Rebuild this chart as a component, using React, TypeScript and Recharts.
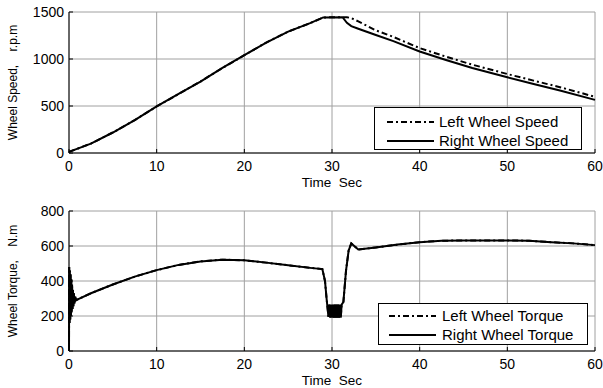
import React from 'react'
import { LineChart, Line, XAxis, YAxis, CartesianGrid } from 'recharts'

// --- speed (top plot) ---
const speedTime = [0, 2.5, 5, 7.5, 10, 12.5, 15, 17.5, 20, 22.5, 25, 27.5, 29, 31.2, 31.7, 32.2, 33, 35, 37, 40, 43, 46, 50, 53, 56, 60]
const rightSpeed = [12, 100, 218, 350, 495, 628, 760, 905, 1040, 1175, 1292, 1381, 1442, 1445, 1385, 1350, 1322, 1255, 1190, 1080, 990, 905, 805, 735, 665, 565]
const leftSpeed = [12, 100, 218, 350, 495, 628, 760, 905, 1040, 1175, 1292, 1381, 1442, 1445, 1445, 1435, 1400, 1305, 1235, 1116, 1025, 940, 840, 770, 700, 598]

// --- torque (bottom plot) ---
const torqueTime = [
  0, 0.02, 0.06, 0.1, 0.14, 0.18, 0.22, 0.26, 0.3, 0.35, 0.4, 0.45, 0.5, 0.56, 0.62, 0.7, 0.8, 1,
  2.5, 5, 7.5, 10, 12.5, 15, 17.5, 20, 22.5, 25, 27.5, 28.9, 29.2, 29.4, 29.6,
  29.7, 29.8, 29.9, 30, 30.1, 30.2, 30.3, 30.4, 30.5, 30.6, 30.7, 30.8, 30.9, 31,
  31.1, 31.3, 31.6, 31.9, 32.2, 33, 35, 37.5, 40, 42.5, 45, 47.5, 50, 52.5, 55, 57.5, 60,
]
const rightTorque = [
  0, 480, 160, 460, 180, 440, 200, 410, 220, 380, 240, 350, 255, 330, 270, 310, 290, 295,
  330, 380, 425, 462, 492, 512, 522, 518, 505, 490, 475, 468, 400, 290, 195,
  265, 190, 265, 190, 265, 190, 265, 190, 265, 190, 265, 190, 265, 190, 265,
  280, 460, 575, 615, 580, 592, 608, 622, 630, 632, 632, 632, 630, 622, 615, 605, 598,
]
// left and right torque lie on top of each other in the figure
const leftTorque = rightTorque

const timeTicks = [0, 10, 20, 30, 40, 50, 60]
const speedTicks = [0, 500, 1000, 1500]
const torqueTicks = [0, 200, 400, 600, 800]

const speedData = speedTime.map((t, i) => ({ t, left: leftSpeed[i], right: rightSpeed[i] }))
const torqueData = torqueTime.map((t, i) => ({ t, left: leftTorque[i], right: rightTorque[i] }))

const FONT = 'Arial, "Liberation Sans", sans-serif'
const DASH_DOT = '6 3 2 3'

const YLabel = ({ viewBox, text }: any) => {
  const cx = viewBox.x + 13
  const cy = viewBox.y + viewBox.height / 2
  return (
    <text x={cx} y={cy} transform={`rotate(-90 ${cx} ${cy})`} textAnchor="middle" dominantBaseline="central"
      fontSize={12} fill="#000" fontFamily={FONT} style={{ whiteSpace: 'pre' }}>
      {text}
    </text>
  )
}

const XLabel = ({ viewBox }: any) => (
  <text x={viewBox.x + viewBox.width / 2} y={viewBox.y + 34} textAnchor="middle" fontSize={13.5}
    fill="#000" fontFamily={FONT} style={{ whiteSpace: 'pre' }}>
    {'Time  Sec'}
  </text>
)

function BoxLegend({ left, top, width, height, labels, lineLeft, textLeft, rowTop }: any) {
  return (
    <div style={{ position: 'absolute', left, top, width, height, boxSizing: 'border-box', border: '1px solid #000', background: '#fff', fontFamily: FONT, fontSize: 15 }}>
      {labels.map((label: string, i: number) => (
        <div key={label} style={{ position: 'absolute', left: 0, top: rowTop + i * 19.3 - 10, height: 20, width: '100%' }}>
          <svg width={48} height={20} style={{ position: 'absolute', left: lineLeft, top: 0 }}>
            <line x1={0} y1={10} x2={47} y2={10} stroke="#000" strokeWidth={2} strokeDasharray={i === 0 ? DASH_DOT : undefined} />
          </svg>
          <span style={{ position: 'absolute', left: textLeft, top: 1, lineHeight: '18px', whiteSpace: 'nowrap' }}>{label}</span>
        </div>
      ))}
    </div>
  )
}

function Panel({ data, yTicks, yMax, yLabel, height, marginTop }: any) {
  return (
    <LineChart width={603} height={height} data={data} margin={{ top: marginTop, right: 8, left: 0, bottom: 0 }}>
      <CartesianGrid stroke="#a0a0a0" strokeWidth={1} />
      <XAxis dataKey="t" type="number" domain={[0, 60]} ticks={timeTicks} interval={0} height={37}
        stroke="#000" tickSize={-4} tickMargin={12} tick={{ fill: '#000', fontSize: 14, fontFamily: FONT }}
        label={(p: any) => <XLabel {...p} />} />
      <XAxis xAxisId="top" orientation="top" type="number" domain={[0, 60]} ticks={timeTicks} interval={0}
        height={0} stroke="#000" tickSize={-4} tick={false} />
      <YAxis type="number" domain={[0, yMax]} ticks={yTicks} interval={0} width={69} stroke="#000"
        tickSize={-4} tickMargin={9} tick={{ fill: '#000', fontSize: 14, fontFamily: FONT }}
        label={(p: any) => <YLabel {...p} text={yLabel} />} />
      <YAxis yAxisId="right" orientation="right" type="number" domain={[0, yMax]} ticks={yTicks} interval={0}
        width={0} stroke="#000" tickSize={-4} tick={false} />
      <Line type="linear" dataKey="left" stroke="#000" strokeWidth={2} strokeDasharray={DASH_DOT} dot={false} isAnimationActive={false} />
      <Line type="linear" dataKey="right" stroke="#000" strokeWidth={2} dot={false} isAnimationActive={false} />
    </LineChart>
  )
}

export default function App() {
  return (
    <div style={{ position: 'absolute', left: 0, top: 0, width: 603, height: 388, background: '#fff', fontFamily: FONT }}>
      <div style={{ position: 'absolute', left: 0, top: 0 }}>
        <Panel data={speedData} yTicks={speedTicks} yMax={1500} yLabel={'Wheel Speed,    r.p.m'} height={190} marginTop={12} />
      </div>
      <div style={{ position: 'absolute', left: 0, top: 195 }}>
        <Panel data={torqueData} yTicks={torqueTicks} yMax={800} yLabel={'Wheel Torque,    N.m'} height={193} marginTop={16} />
      </div>
      <BoxLegend left={374} top={107} width={208} height={43} labels={['Left Wheel Speed', 'Right Wheel Speed']}
        lineLeft={12} textLeft={64} rowTop={13.7} />
      <BoxLegend left={378} top={303} width={210} height={42} labels={['Left Wheel Torque', 'Right Wheel Torque']}
        lineLeft={10} textLeft={63} rowTop={12} />
    </div>
  )
}
